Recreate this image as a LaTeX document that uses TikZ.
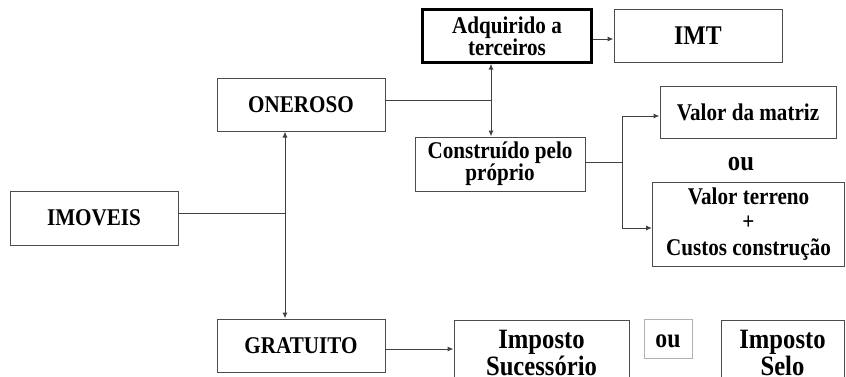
\documentclass[tikz,border=0pt]{standalone}
\usepackage{fontspec}
\setmainfont{Liberation Serif}[FakeStretch=0.88]
\usetikzlibrary{arrows.meta}
\tikzset{
  box/.style={draw=black!70, line width=1pt, rectangle, inner sep=1pt, align=center, font=\bfseries\fontsize{24}{22}\selectfont},
  bigtext/.style={font=\bfseries\fontsize{28}{27}\selectfont},
  conn/.style={draw=black!75, line width=1pt},
  arr/.style={conn, -{Latex[length=6pt,width=5pt]}},
}
\begin{document}
\begin{tikzpicture}[x=1pt,y=-1pt]
\useasboundingbox (0,0) rectangle (846,376);
\clip (0,0) rectangle (846,376);
% nodes
\node[box, minimum width=168, minimum height=53] (oner) at (301,104.5) {ONEROSO};
\node[box, draw=black, line width=2.2pt, minimum width=169, minimum height=53] (adq) at (507,36) {Adquirido a\\terceiros};
\node[box, minimum width=168, minimum height=53, font=\bfseries\fontsize{27}{24}\selectfont] (imt) at (698,35.5) {IMT};
\node[box, minimum width=170, minimum height=54] (cons) at (500,164) {Construído pelo\\próprio};
\node[box, minimum width=176, minimum height=52] (vdm) at (748,112) {Valor da matriz};
\node[font=\bfseries\fontsize{28}{26}\selectfont, inner sep=0pt] (ou1) at (741,164) {ou};
\node[box, minimum width=192, minimum height=84, font=\bfseries\fontsize{24}{25.5}\selectfont] (vt) at (748.5,224) {Valor terreno\\+\\Custos construção};
\node[box, minimum width=168, minimum height=54] (imo) at (94,218) {IMOVEIS};
\node[box, minimum width=168, minimum height=53] (grat) at (301,345.5) {GRATUITO};
\node[box, bigtext, minimum width=175, minimum height=66] (isuc) at (541.5,353) {Imposto\\Sucessório};
\node[box, draw=black!30, minimum width=48, minimum height=39, text height=18pt, text depth=0pt, font=\bfseries\fontsize{27}{25}\selectfont] (ou2) at (668,338.5) {ou};
\node[box, bigtext, minimum width=123, minimum height=66] (isel) at (782.5,353) {Imposto\\Selo};
% junctions
\coordinate (j1) at (285,213);
\coordinate (j2) at (491,100);
\coordinate (j3) at (622,162);
% connectors
\draw[conn] (imo.east |- j1) -- (j1);
\draw[arr] (j1) -- (oner.south -| j1);
\draw[arr] (j1) -- (grat.north -| j1);
\draw[conn] (oner.east |- j2) -- (j2);
\draw[arr] (j2) -- (adq.south -| j2);
\draw[arr] (j2) -- (cons.north -| j2);
\draw[arr] (adq.east |- 0,39) -- (imt.west |- 0,39);
\draw[conn] (cons.east |- j3) -- (j3);
\draw[arr] (j3) |- (vdm.west |- 0,116);
\draw[arr] (j3) |- (vt.west |- 0,228);
\draw[arr] (grat.east |- 0,349) -- (isuc.west |- 0,349);
\end{tikzpicture}
\end{document}
